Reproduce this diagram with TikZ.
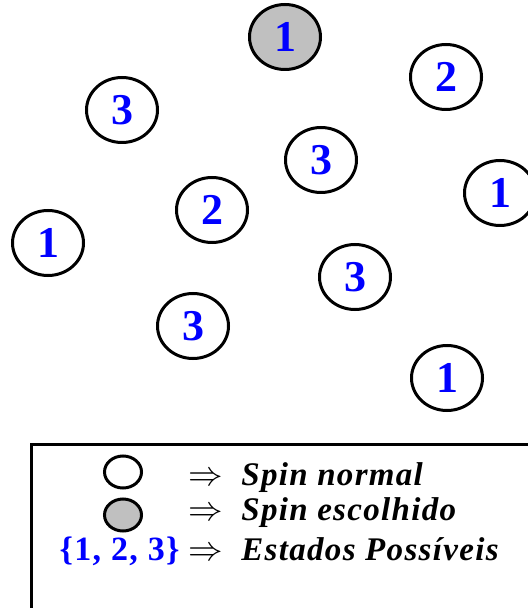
\documentclass[tikz,border=0pt]{standalone}
\usepackage{fontspec}
\setmainfont{Liberation Serif}
\newfontfamily\legfont[LetterSpace=4]{Liberation Serif}
\usetikzlibrary{shapes.geometric}
\definecolor{spinblue}{RGB}{0,0,255}
\definecolor{spingray}{RGB}{192,192,192}
\tikzset{
  spin/.style={draw=black, line width=1.5pt, ellipse, fill=white,
    minimum width=35.5pt, minimum height=32.5pt, inner sep=0pt,
    text=spinblue, font=\fontsize{22}{24}\selectfont\bfseries},
  chosen/.style={spin, fill=spingray},
  legcirc/.style={draw=black, line width=1.5pt, ellipse, fill=white,
    minimum width=18.5pt, minimum height=16pt, inner sep=0pt},
  legtext/.style={anchor=base west, inner sep=0pt,
    font=\legfont\fontsize{16.5}{18}\selectfont\bfseries\itshape},
  legarrow/.style={anchor=base, inner sep=0pt, font=\fontsize{16}{18}\selectfont},
  legset/.style={anchor=base east, inner sep=0pt, text=spinblue,
    font=\legfont\fontsize{17}{19}\selectfont\bfseries},
  legbox/.style={draw=black, line width=1.5pt}
}
\begin{document}
\begin{tikzpicture}[x=0.5pt, y=-0.5pt]
\useasboundingbox (0,0) rectangle (528,608);
\clip (0,0) rectangle (528,608);
% spins
\node[chosen] (c1) at (285,37) {1};
\node[spin] (a2) at (446,77) {2};
\node[spin] (b3) at (122,110) {3};
\node[spin] (d3) at (321,160) {3};
\node[spin] (e1) at (500,193) {1};
\node[spin] (f2) at (212,210) {2};
\node[spin] (g1) at (48,243) {1};
\node[spin] (h3) at (355,277) {3};
\node[spin] (i3) at (193,326) {3};
\node[spin] (j1) at (447,378) {1};
% legend
\coordinate (boxA) at (31.5,444.5);
\coordinate (boxB) at (560,640);
\draw[legbox] (boxA) rectangle (boxB);
\node[legcirc] (l1) at (123,472) {};
\node[legcirc, fill=spingray] (l2) at (123,515) {};
\node[legarrow] (r1) at (206,485) {$\Rightarrow$};
\node[legarrow] (r2) at (206,520) {$\Rightarrow$};
\node[legarrow] (r3) at (206,560) {$\Rightarrow$};
\node[legtext] (t1) at (241,485) {Spin normal};
\node[legtext] (t2) at (241,520) {Spin escolhido};
\node[legtext] (t3) at (241,560) {Estados Possíveis};
\node[legset] (s3) at (180,560) {\{1, 2, 3\}};
\end{tikzpicture}
\end{document}
